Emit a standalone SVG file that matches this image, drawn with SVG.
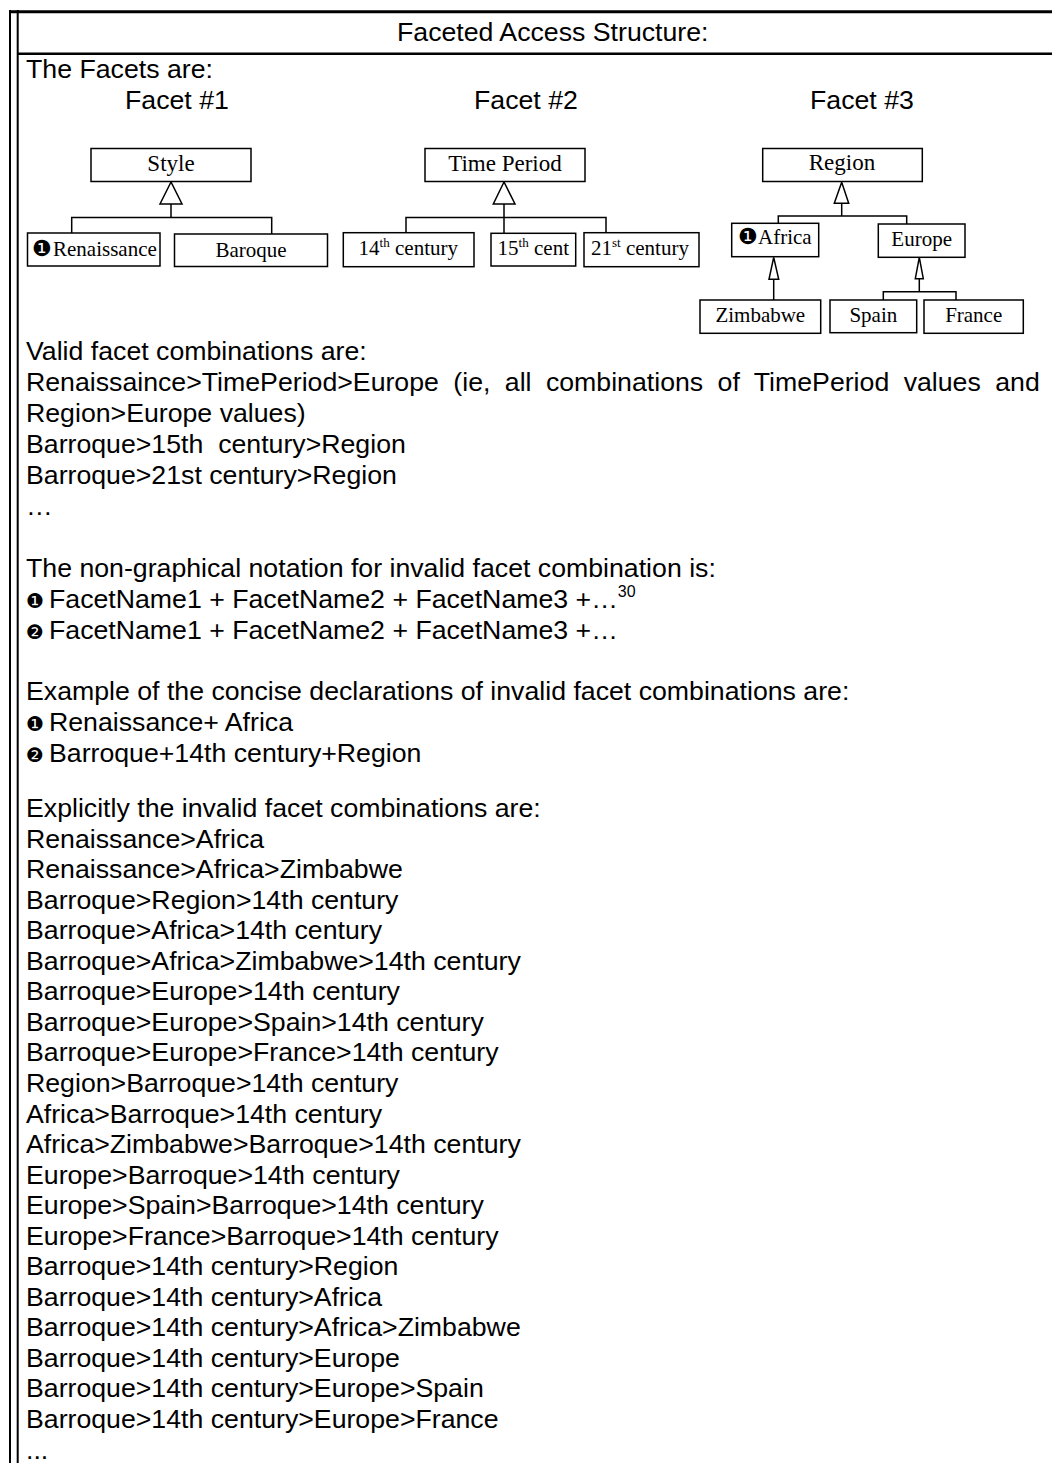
<svg xmlns="http://www.w3.org/2000/svg" width="1052" height="1463" viewBox="0 0 1052 1463">
  <style>
    .frame { stroke: #000; fill: none; }
    .b { font-family: "Liberation Sans", Arial, sans-serif; font-size: 26.7px; fill: #000; }
    .bul { font-family: "DejaVu Sans", sans-serif; font-size: 20px; fill: #000; }
    .box { fill: #fff; stroke: #000; stroke-width: 1.5; }
    .ln { fill: none; stroke: #000; stroke-width: 1.5; }
    .tri { fill: #fff; stroke: #000; stroke-width: 1.5; stroke-linejoin: miter; }
    .p { font-family: "Liberation Serif", "Times New Roman", serif; font-size: 23px; fill: #000; text-anchor: middle; }
    .c { font-family: "Liberation Serif", "Times New Roman", serif; font-size: 21px; fill: #000; }
    .m { text-anchor: middle; }
    .dg { font-family: "DejaVu Sans", sans-serif; font-size: 22px; }
    .sup { font-size: 13px; }
  </style>
  <rect width="1052" height="1463" fill="#fff"/>

  <!-- table frame -->
  <g id="frame" class="frame">
    <line x1="9" y1="11.7" x2="1052" y2="11.7" stroke-width="3"/>
    <line x1="17" y1="53.7" x2="1052" y2="53.7" stroke-width="2.5"/>
    <line x1="10" y1="10" x2="10" y2="1463" stroke-width="2"/>
    <line x1="17.7" y1="10" x2="17.7" y2="1463" stroke-width="2"/>
  </g>

  <text class="b" x="397" y="41">Faceted Access Structure:</text>
  <text class="b" x="26" y="78">The Facets are:</text>
  <text class="b" x="125" y="109">Facet #1</text>
  <text class="b" x="474" y="109">Facet #2</text>
  <text class="b" x="810" y="109">Facet #3</text>

  <!-- connectors: generalisation lines and hollow triangles -->
  <g id="connectors">
    <!-- Style -->
    <path class="ln" d="M171 204V217.5M71.7 233V217.5H271.7V234"/>
    <polygon class="tri" points="171,182 160,204 182,204"/>
    <!-- Time Period -->
    <path class="ln" d="M504 204V233.3M406 232.7V217.5H606V232.7"/>
    <polygon class="tri" points="504,182 493.3,204 515,204"/>
    <!-- Region -->
    <path class="ln" d="M841.7 203.3V216M778.3 223.3V216H906.7V224"/>
    <polygon class="tri" points="841.7,182.3 834.3,203.3 848.7,203.3"/>
    <!-- Africa -->
    <path class="ln" d="M773.7 279.3V300"/>
    <polygon class="tri" points="773.7,257.3 769,279.3 778.7,279.3"/>
    <!-- Europe -->
    <path class="ln" d="M919.3 278.7V291.7M883.3 300V291.7H956V300"/>
    <polygon class="tri" points="919.3,257.3 915.3,278.7 923.3,278.7"/>
  </g>

  <!-- Facet #1 -->
  <g id="style">
    <rect class="box" x="91" y="148.5" width="160" height="33"/>
    <text class="p" x="171" y="171">Style</text>
  </g>
  <g id="renaissance">
    <rect class="box" x="27.5" y="233" width="132.5" height="33"/>
    <text class="c" x="32" y="256"><tspan class="dg">❶</tspan><tspan x="53">Renaissance</tspan></text>
  </g>
  <g id="baroque">
    <rect class="box" x="174.5" y="234" width="153" height="32.5"/>
    <text class="c m" x="251" y="256.5">Baroque</text>
  </g>

  <!-- Facet #2 -->
  <g id="time-period">
    <rect class="box" x="425" y="148.5" width="160" height="33"/>
    <text class="p" x="505" y="171">Time Period</text>
  </g>
  <g id="c14">
    <rect class="box" x="343.3" y="232.7" width="130.7" height="34"/>
    <text class="c m" x="408.3" y="255">14<tspan class="sup" dy="-8">th</tspan><tspan dy="8"> century</tspan></text>
  </g>
  <g id="c15">
    <rect class="box" x="491" y="233.3" width="84.7" height="32.7"/>
    <text class="c m" x="533.3" y="255">15<tspan class="sup" dy="-8">th</tspan><tspan dy="8"> cent</tspan></text>
  </g>
  <g id="c21">
    <rect class="box" x="584" y="232.7" width="115" height="34"/>
    <text class="c m" x="640" y="255">21<tspan class="sup" dy="-8">st</tspan><tspan dy="8"> century</tspan></text>
  </g>

  <!-- Facet #3 -->
  <g id="region">
    <rect class="box" x="762.7" y="148.5" width="159.6" height="33"/>
    <text class="p" x="842" y="170">Region</text>
  </g>
  <g id="africa">
    <rect class="box" x="731.7" y="223.3" width="87" height="33.4"/>
    <text class="c" x="738" y="244"><tspan class="dg">❶</tspan><tspan x="758">Africa</tspan></text>
  </g>
  <g id="europe">
    <rect class="box" x="878.3" y="224" width="86.7" height="33.3"/>
    <text class="c m" x="921.7" y="246">Europe</text>
  </g>
  <g id="zimbabwe">
    <rect class="box" x="700" y="300" width="120.7" height="33.3"/>
    <text class="c m" x="760.3" y="321.7">Zimbabwe</text>
  </g>
  <g id="spain">
    <rect class="box" x="830" y="300" width="86.7" height="32.7"/>
    <text class="c m" x="873.3" y="321.7">Spain</text>
  </g>
  <g id="france">
    <rect class="box" x="924" y="300" width="99.3" height="33.3"/>
    <text class="c m" x="973.7" y="321.7">France</text>
  </g>

  <!-- notes below the facets -->
  <g id="notes" class="b">
    <text x="26" y="360">Valid facet combinations are:</text>
    <text x="26" y="391" word-spacing="7">Renaissaince&gt;TimePeriod&gt;Europe (ie, all combinations of TimePeriod values and</text>
    <text x="26" y="422">Region&gt;Europe values)</text>
    <text x="26" y="453">Barroque&gt;15th&#160; century&gt;Region</text>
    <text x="26" y="484">Barroque&gt;21st century&gt;Region</text>
    <text x="26" y="515">…</text>

    <text x="26" y="577">The non-graphical notation for invalid facet combination is:</text>
    <text x="26" y="608"><tspan class="bul">❶</tspan><tspan x="49">FacetName1 + FacetName2 + FacetName3 +…</tspan><tspan font-size="16" dy="-11">30</tspan></text>
    <text x="26" y="639"><tspan class="bul">❷</tspan><tspan x="49">FacetName1 + FacetName2 + FacetName3 +…</tspan></text>

    <text x="26" y="700">Example of the concise declarations of invalid facet combinations are:</text>
    <text x="26" y="731"><tspan class="bul">❶</tspan><tspan x="49">Renaissance+ Africa</tspan></text>
    <text x="26" y="762"><tspan class="bul">❷</tspan><tspan x="49">Barroque+14th century+Region</tspan></text>

    <text x="26" y="817">Explicitly the invalid facet combinations are:</text>
    <text x="26" y="847.5">Renaissance&gt;Africa</text>
    <text x="26" y="878">Renaissance&gt;Africa&gt;Zimbabwe</text>
    <text x="26" y="908.6">Barroque&gt;Region&gt;14th century</text>
    <text x="26" y="939.2">Barroque&gt;Africa&gt;14th century</text>
    <text x="26" y="969.7">Barroque&gt;Africa&gt;Zimbabwe&gt;14th century</text>
    <text x="26" y="1000.3">Barroque&gt;Europe&gt;14th century</text>
    <text x="26" y="1030.8">Barroque&gt;Europe&gt;Spain&gt;14th century</text>
    <text x="26" y="1061.4">Barroque&gt;Europe&gt;France&gt;14th century</text>
    <text x="26" y="1091.9">Region&gt;Barroque&gt;14th century</text>
    <text x="26" y="1122.5">Africa&gt;Barroque&gt;14th century</text>
    <text x="26" y="1153">Africa&gt;Zimbabwe&gt;Barroque&gt;14th century</text>
    <text x="26" y="1183.6">Europe&gt;Barroque&gt;14th century</text>
    <text x="26" y="1214.1">Europe&gt;Spain&gt;Barroque&gt;14th century</text>
    <text x="26" y="1244.7">Europe&gt;France&gt;Barroque&gt;14th century</text>
    <text x="26" y="1275.2">Barroque&gt;14th century&gt;Region</text>
    <text x="26" y="1305.8">Barroque&gt;14th century&gt;Africa</text>
    <text x="26" y="1336.3">Barroque&gt;14th century&gt;Africa&gt;Zimbabwe</text>
    <text x="26" y="1366.9">Barroque&gt;14th century&gt;Europe</text>
    <text x="26" y="1397.4">Barroque&gt;14th century&gt;Europe&gt;Spain</text>
    <text x="26" y="1428">Barroque&gt;14th century&gt;Europe&gt;France</text>
    <text x="26" y="1458.6">...</text>
  </g>
</svg>
